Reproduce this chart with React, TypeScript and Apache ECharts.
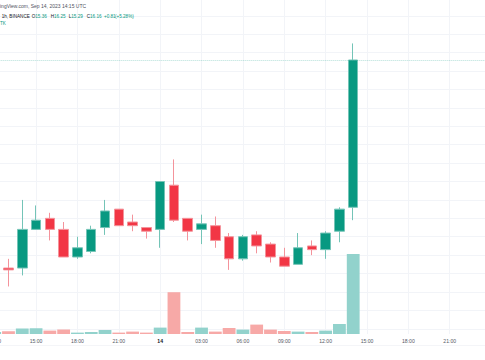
import React, { useEffect, useRef } from "react";
import * as echarts from "echarts";

// Hourly categories, Sep 13 12:00 UTC .. Sep 15 00:00 UTC (tick labels)
const timeLabels = [
  "12:00", "13:00", "14:00", "15:00", "16:00", "17:00", "18:00", "19:00", "20:00", "21:00", "22:00", "23:00",
  "14", "01:00", "02:00", "03:00", "04:00", "05:00", "06:00", "07:00", "08:00", "09:00", "10:00", "11:00",
  "12:00", "13:00", "14:00", "15:00", "16:00", "17:00", "18:00", "19:00", "20:00", "21:00", "22:00", "23:00",
  "15",
];

const opens = [14.96, 15.03, 15.03, 15.24, 15.30, 15.24, 15.09, 15.12, 15.25, 15.35, 15.28, 15.25, 15.24, 15.48, 15.30, 15.24, 15.26, 15.20, 15.08, 15.21, 15.16, 15.09, 15.05, 15.15, 15.13, 15.23, 15.36];
const closes = [15.03, 15.02, 15.24, 15.29, 15.24, 15.09, 15.14, 15.24, 15.34, 15.26, 15.26, 15.23, 15.50, 15.29, 15.23, 15.27, 15.18, 15.08, 15.20, 15.15, 15.09, 15.04, 15.14, 15.13, 15.22, 15.35, 16.16];
const lows = [14.94, 14.93, 14.99, 15.24, 15.18, 15.09, 15.08, 15.11, 15.21, 15.26, 15.23, 15.19, 15.14, 15.28, 15.18, 15.16, 15.14, 15.02, 15.07, 15.11, 15.06, 15.04, 15.05, 15.10, 15.08, 15.17, 15.29];
const highs = [15.05, 15.08, 15.40, 15.37, 15.33, 15.28, 15.20, 15.26, 15.40, 15.35, 15.32, 15.25, 15.50, 15.62, 15.30, 15.32, 15.31, 15.22, 15.21, 15.23, 15.17, 15.14, 15.22, 15.18, 15.23, 15.36, 16.25];
// volume (thousands)
const volumes = [10, 14, 27, 29, 17, 22, 7, 10, 20, 7, 12, 7, 32, 209, 10, 32, 12, 30, 22, 47, 22, 15, 12, 10, 17, 50, 400];

const UP = "#089981";
const DOWN = "#f23645";
const UP_VOL = "#92d2cc";
const DOWN_VOL = "#f7a9a7";
const GRID_LINE = "#f2f4f8";
const FONT = "Liberation Sans";

export default function App() {
  const ref = useRef<HTMLDivElement>(null);

  useEffect(() => {
    if (!ref.current) return;
    const chart = echarts.init(ref.current, undefined, { renderer: "svg" });
    const cats = timeLabels.map((_, i) => String(i));
    const candleData = opens.map((o, i) => [o, closes[i], lows[i], highs[i]]);
    const volData = volumes.map((v, i) => ({
      value: v,
      itemStyle: { color: closes[i] >= opens[i] ? UP_VOL : DOWN_VOL },
    }));
    const gridLeft = -5.3;
    const gridWidth = 496.4;
    const showIdx = (idx: number) => idx % 3 === 0;
    const showLabel = (idx: number) => idx % 3 === 0 && idx < timeLabels.length - 1;

    const legendText = (x: number, text: string, fill: string, y: number, size: number) => ({
      type: "text",
      x,
      y,
      z: 100,
      style: { text, fill, fontSize: size, fontFamily: FONT, verticalAlign: "middle" },
    });
    const ohlc = (x: number, letter: string, value: number) => ({
      type: "text",
      x,
      y: 16,
      z: 100,
      style: {
        text: `{d|${letter}}{g|${value.toFixed(2)}}`,
        fontSize: 4.6,
        fontFamily: FONT,
        verticalAlign: "middle",
        rich: {
          d: { fill: "#131722", fontSize: 4.6, fontFamily: FONT },
          g: { fill: UP, fontSize: 4.6, fontFamily: FONT },
        },
      },
    });

    chart.setOption({
      animation: false,
      backgroundColor: "#ffffff",
      grid: [
        { left: gridLeft, width: gridWidth, top: -2.6, height: 331.4, outerBoundsMode: "none", containLabel: false },
        { left: gridLeft, width: gridWidth, top: 234, height: 100, outerBoundsMode: "none", containLabel: false },
      ],
      xAxis: [
        {
          type: "category",
          gridIndex: 0,
          data: cats,
          boundaryGap: false,
          axisLine: { show: false },
          axisTick: { show: false },
          axisLabel: { show: false },
          splitLine: { show: true, interval: (idx: number) => showIdx(idx), lineStyle: { color: GRID_LINE, width: 1 } },
        },
        {
          type: "category",
          gridIndex: 1,
          data: cats,
          boundaryGap: false,
          axisLine: { show: false },
          axisTick: { show: false },
          splitLine: { show: true, interval: (idx: number) => showIdx(idx), lineStyle: { color: GRID_LINE, width: 1 } },
          axisLabel: {
            interval: (idx: number) => showLabel(idx),
            margin: 4,
            fontSize: 5.1,
            fontFamily: FONT,
            color: "#555a66",
            hideOverlap: false,
            formatter: (v: string) => {
              const t = timeLabels[Number(v)];
              return t.length <= 2 ? `{b|${t}}` : t;
            },
            rich: { b: { fontSize: 5.1, fontFamily: FONT, fontWeight: "bold", color: "#131722" } },
          },
        },
      ],
      yAxis: [
        {
          type: "value",
          gridIndex: 0,
          min: 14.7,
          max: 16.5,
          interval: 0.1,
          axisLine: { show: false },
          axisTick: { show: false },
          axisLabel: { show: false },
          splitLine: { show: true, lineStyle: { color: GRID_LINE, width: 1 } },
        },
        {
          type: "value",
          gridIndex: 1,
          min: 0,
          max: 500,
          axisLine: { show: false },
          axisTick: { show: false },
          axisLabel: { show: false },
          splitLine: { show: false },
        },
      ],
      series: [
        {
          type: "bar",
          xAxisIndex: 1,
          yAxisIndex: 1,
          data: volData,
          barWidth: 12.8,
          z: 1,
        },
        {
          type: "candlestick",
          xAxisIndex: 0,
          yAxisIndex: 0,
          data: candleData,
          barWidth: 10,
          z: 3,
          itemStyle: {
            color: UP,
            color0: DOWN,
            borderColor: "#74c4b7",
            borderColor0: "#f4939b",
            borderWidth: 1,
          },
          markLine: {
            silent: true,
            symbol: ["none", "none"],
            label: { show: false },
            lineStyle: { color: "rgba(8,153,129,0.3)", type: "dotted", width: 1 },
            data: [{ yAxis: closes[closes.length - 1] }],
          },
        },
      ],
      graphic: [
        legendText(0, "ingView.com, Sep 14, 2023 14:15 UTC", "#50535e", 6, 5),
        legendText(1.7, "1h, BINANCE", "#131722", 16, 4.6),
        ohlc(31.7, "O", opens[26]),
        ohlc(50.7, "H", highs[26]),
        ohlc(68.7, "L", lows[26]),
        ohlc(86.7, "C", closes[26]),
        legendText(104, "+0.81", UP, 16, 4.6),
        legendText(115, "(+5.28%)", UP, 16, 4.6),
        legendText(0, "TK", UP, 23.5, 4.6),
        {
          type: "line",
          shape: { x1: 0, y1: 345.5, x2: 485, y2: 345.5 },
          style: { stroke: "#f4f5f8", lineWidth: 1 },
          z: 0,
        },
      ],
    });
    return () => chart.dispose();
  }, []);

  return <div ref={ref} style={{ position: "fixed", left: 0, top: 0, width: 485, height: 360 }} />;
}
